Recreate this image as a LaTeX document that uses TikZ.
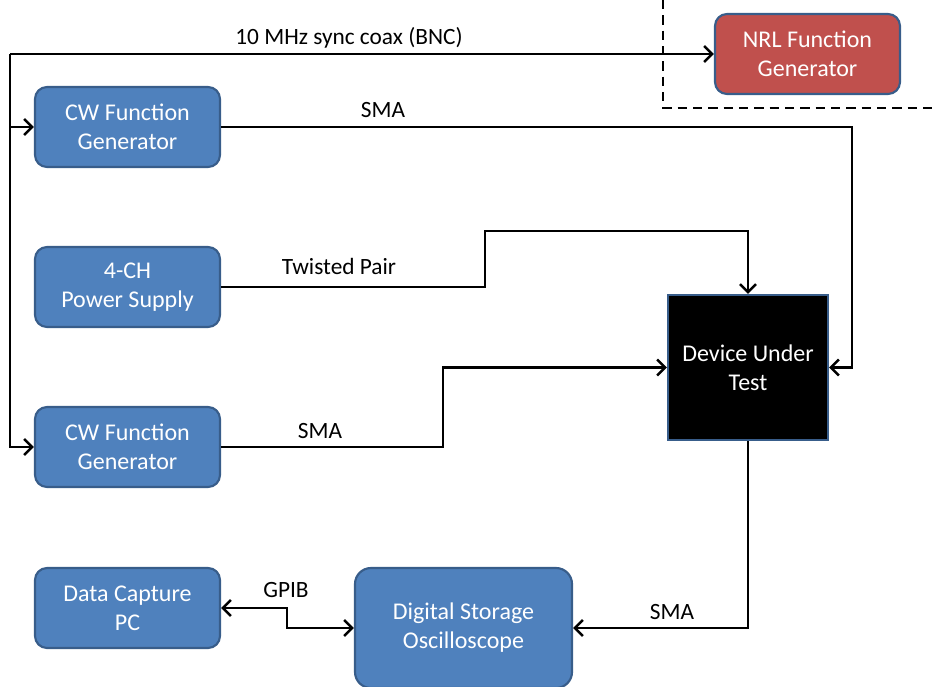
\documentclass[tikz,border=0pt]{standalone}
\usepackage{fontspec}
\setmainfont{Carlito}
\usetikzlibrary{arrows.meta}
\definecolor{boxblue}{HTML}{4F81BD}
\definecolor{boxedge}{HTML}{385D8A}
\definecolor{boxred}{HTML}{C0504D}
\tikzset{
  blk/.style={draw=boxedge, line width=1.6pt, fill=boxblue, rounded corners=9pt,
    text=white, align=center, inner sep=0pt,
    font=\fontsize{18}{21.75}\selectfont},
  sbox/.style={blk, minimum width=138.75pt, minimum height=60pt},
  wire/.style={draw=black, line width=2.1pt},
  tip/.style={},
  arr/.style={wire, -{Straight Barb[length=6pt,width=12pt,line width=1.9pt]}},
  darr/.style={wire, {Straight Barb[length=6pt,width=12pt,line width=1.9pt]}-{Straight Barb[length=6pt,width=12pt,line width=1.9pt]}},
  lbl/.style={font=\fontsize{17.5}{20}\selectfont, inner sep=0pt},
}
\begin{document}
\begin{tikzpicture}[x=0.75pt, y=-0.75pt]
\useasboundingbox (0,0) rectangle (934,686);
% boundary
\draw[line width=2.1pt, dash pattern=on 7pt off 4.5pt] (663,0) -- (663,108) -- (934,108);
% nodes
\node[sbox] (cw1) at (127.5,127) {CW Function\\Generator};
\node[sbox] (ps)  at (127.5,287) {4-CH\\Power Supply};
\node[sbox] (cw2) at (127.5,447) {CW Function\\Generator};
\node[sbox] (pc)  at (127.5,608) {Data Capture\\PC};
\node[sbox, fill=boxred] (nrl) at (807.5,54) {NRL Function\\Generator};
\node[blk, rounded corners=0pt, fill=black, minimum width=120pt, minimum height=108.75pt] (dut) at (748,367.5) {Device Under\\Test};
\node[blk, rounded corners=12pt, minimum width=162.75pt, minimum height=90pt] (dso) at (463.5,628) {Digital Storage\\Oscilloscope};
% helper coordinates
\coordinate (sj) at (10,54);
\coordinate (c1) at (852,127);
\coordinate (p1) at (485,287);
\coordinate (p2) at (485,231);
\coordinate (q1) at (443,447);
\coordinate (g1) at (287,608);
% sync
\draw[arr] (sj) -- (nrl.west);
\draw[arr] (sj) -- (sj |- cw2.west) -- (cw2.west);
\draw[arr] (sj |- cw1.west) -- (cw1.west);
% CW1 -> DUT
\draw[arr] (cw1.east) -- (c1) -- (c1 |- dut.east) -- (dut.east);
% PS -> DUT
\draw[arr] (ps.east) -- (p1) -- (p2) -- (p2 -| dut.north) -- (dut.north);
% CW2 -> DUT
\draw[arr] (cw2.east) -- (q1) -- (q1 |- dut.west) -- (dut.west);
% DUT -> DSO
\draw[arr] (dut.south) -- (dut.south |- dso.east) -- (dso.east);
% GPIB
\draw[darr] (pc.east) -- (g1) -- (g1 |- dso.west) -- (dso.west);
% labels
\node[lbl] (l1) at (349,38) {10 MHz sync coax (BNC)};
\node[lbl] (l2) at (383,110) {SMA};
\node[lbl] (l3) at (339,266) {Twisted Pair};
\node[lbl] (l4) at (320,431) {SMA};
\node[lbl] (l5) at (286,590) {GPIB};
\node[lbl] (l6) at (672,612) {SMA};
\end{tikzpicture}
\end{document}
